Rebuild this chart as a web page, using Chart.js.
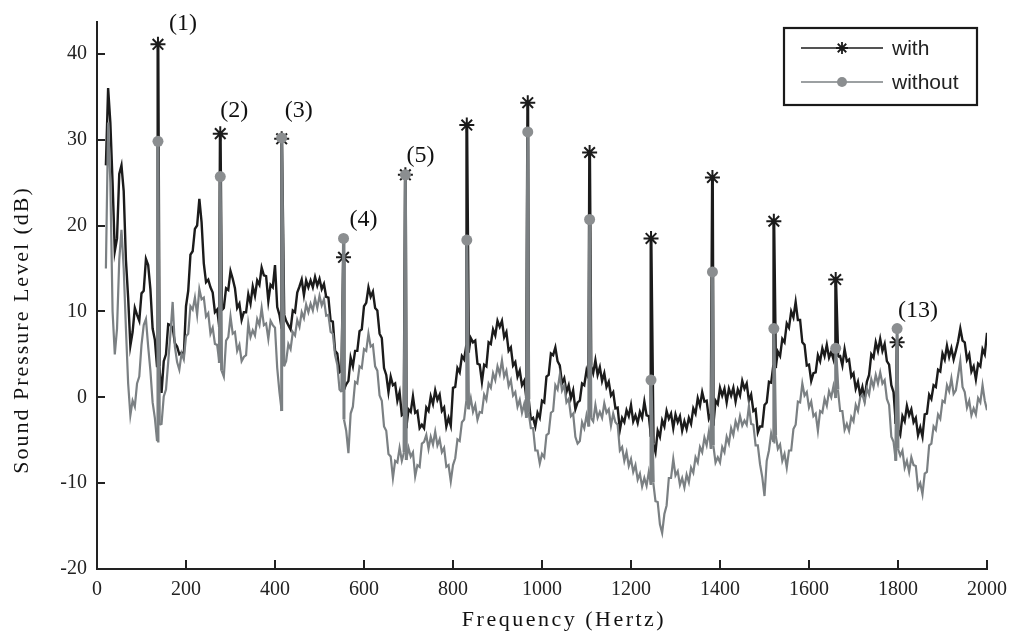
<!DOCTYPE html>
<html>
<head>
<meta charset="utf-8">
<script src="https://cdn.jsdelivr.net/npm/chart.js@4/dist/chart.umd.min.js"></script>
<style>
html,body{margin:0;padding:0;background:#fff;}
#wrap{width:1016px;height:635px;position:relative;}
</style>
</head>
<body>
<div id="wrap"><canvas id="c"></canvas></div>
<script>
// Frequency grid (Hz) of the spectrum samples
const freqStart = 20;
const freqStep = 5;

// Sound pressure level (dB), "with" series, one value per 5 Hz from 20 Hz
const levelWith = [
  27,36,32,25,17,18.5,26,27,24,16,11.6,6,7.6,10.4,9.6,8.9,12.1,12.4,16.1,15.4,
  12.6,8,6.7,3.5,3.6,0.5,4.2,5,8.5,8.4,8.1,6.3,5.9,5,5.2,4.8,10.6,12.4,16.6,17,
  19.6,20,23.1,20.4,15.6,13.4,13.7,12.8,12.2,9.9,10.2,8.2,10.1,10.4,12.7,12.5,14.7,13.8,12.7,10.4,
  10.9,9,9.9,9.9,12,10.9,12.9,11.8,13.6,13.1,15.1,14.2,14.1,11.2,13.1,12.8,15.4,10.5,9.6,8,
  9.7,8.9,8.4,7.9,10.1,9.9,12.2,12.9,13.7,11.9,13.6,12.8,13.6,12.8,14,13,13.8,12.6,13.2,11.7,
  11.6,8.9,8.8,5.4,5.1,2.9,3.1,0.9,1.5,1.9,4.6,3.6,5.4,5.4,7.7,7.9,10.6,11,12.8,11.7,
  12.3,10.4,10.1,7.4,6.9,3.4,2.6,0.6,2.4,1.4,1.6,-0.4,0.6,-2.1,-1.9,-3.6,-1.4,-1.7,0.1,-1.8,
  -1.6,-3.6,-3.2,-3.6,-1.2,-1.6,0.1,-0.8,0.8,-0.3,0.3,-1.6,-1.2,-3.4,-2.4,-3.3,1.1,1.2,3.4,2.9,
  4.8,4.4,6.1,5.2,6.9,6.4,6.6,3.9,3.8,1.8,3.8,3.6,6.4,6.2,7.9,7.2,8.9,8.2,8.9,7,
  7.6,5.4,5.8,3.7,4.1,2.4,3.1,1.4,1.9,-0.1,-0.2,-2.6,-2.4,-3.4,-1.8,-2.4,-0.4,-0.6,2.4,2.6,
  5.1,4.9,5.8,4.2,3.7,1.6,2.2,0.6,1.4,-0.1,0.8,-1.4,-0.6,-0.4,1.6,1.4,3.1,2.2,3.7,2.8,
  4.3,2.6,3.5,1.9,2.8,1.2,1.8,0.2,0.6,-1.3,-1.2,-3.8,-2.4,-2.9,-1.5,-2.2,-0.9,-2.8,-2.1,-3,
  -1.7,-2.4,-0.5,-2.1,-2.2,-4.6,-5.4,-6.4,-3.9,-4.6,-2.7,-3.4,-1.6,-2.5,-1.9,-3.6,-2,-2.9,-2.2,-3.9,
  -2.8,-3.7,-2.4,-3.1,-1.3,-1.9,-0.1,-1,0.6,-0.5,-0.4,-2.5,-1.9,-3.3,-0.4,-0.8,1.1,0.2,1,-0.6,
  1,0.2,1.1,-0.5,0.9,0.2,1.9,1,1.6,-0.4,0.3,-1.6,-1.4,-4.1,-3.4,-3.4,-0.9,-0.6,1.8,1.7,
  3.8,3.4,5.3,4.8,6.8,6.4,8.6,8.1,10,9.3,11.1,9,9,6.4,6.1,3.7,3.8,1.9,2.8,2.9,
  4.9,4.2,5.7,4.8,6.1,4.6,5.3,4.4,6.1,4.7,4.8,3.7,5.6,4.2,4.4,2.4,2.8,1,1.8,0.2,
  1.2,-0.2,1.8,2.6,5,4.6,6.4,5.4,6.8,5.4,6.2,4.2,3.8,1.4,0.6,-3.1,-3.8,-4.4,-2.2,-2.8,
  -1,-2.1,-1.4,-2.9,-2.4,-4.4,-3.5,-4.6,-2,-1.9,0.3,-0.2,1.4,1.2,3.2,3,5.1,4.4,6,4.7,
  5.7,4.4,5.4,6.5,8,6.6,6.4,4.4,5,3,3.6,2.1,3.9,3.6,5.6,5,7.5
];

// Sound pressure level (dB), "without" series, one value per 5 Hz from 20 Hz
const levelWithout = [
  15,32,25,10,5,8,16,19.5,15,8,1.6,-2.1,-0.4,-1.1,1.6,2.4,6.1,8.4,9.1,5.9,
  3.1,-0.6,-2.4,-5.1,-3.2,-3.1,0.1,0.9,4.1,7.4,11.1,5.9,4.1,3.2,5.1,4.4,7.1,7.4,10.6,10.2,
  11.6,9.6,12.6,11.4,11.6,9.4,9.8,7.4,8.1,6.2,6.1,4,3.1,2.4,6.6,7,9.4,7.4,7.6,5.4,
  6.1,4.2,4.7,4.9,8.6,7,7.8,7.2,9.1,8.4,10.4,8.4,8.6,6.8,8.9,8.4,8.1,3.4,0.6,-1.6,
  3.6,4.2,6.2,5.6,7.6,7.2,9,8.2,9.9,9.2,10.8,9.9,10.9,10.1,11.5,10.4,11.8,10.7,11.4,9.5,
  9.6,7.6,7.4,4.9,3.8,0.9,0.6,-2.6,-3.9,-6.5,-1.9,-1.1,1.8,1.6,3.6,3.4,5.6,5.4,7.4,5.9,
  6.1,3.6,3.1,0.2,-0.4,-3.4,-3.9,-6.6,-6.9,-9.4,-7.4,-7.6,-5.9,-7.4,-6.4,-7.3,-5.9,-6.9,-6.4,-9.2,
  -7.9,-8.1,-5.4,-5.2,-4.4,-6,-4.6,-5.5,-4,-5.6,-4.9,-6.4,-5.9,-8.1,-7.9,-9.8,-7.9,-7.1,-4.9,-5.1,
  -2.9,-2.6,-0.4,-1.4,-0.1,-1.7,-0.9,-2.6,-1.7,-1.8,0.3,-0.3,1.6,1.1,2.8,2,3.6,2.7,4.3,2.4,
  3.1,1.3,2,0.2,0.6,-1.1,-0.3,-1.8,-0.8,-2.4,-1.8,-3.6,-3.6,-6.2,-6.2,-7.7,-6.6,-7,-4.4,-4.2,
  -1.8,-1.6,1.4,0.9,2.6,0.8,1.4,-0.6,-0.2,-2.2,-1.9,-4.6,-5.4,-5.1,-2.9,-3.6,-2.1,-3.4,-2.4,-2.8,
  -0.9,-2.4,-1.7,-2.4,-0.7,-1.8,-1.4,-3.3,-1.9,-2.9,-3.2,-6.2,-5.8,-7.4,-6.4,-8,-7.2,-8.7,-7.9,-9.6,
  -8.9,-10.4,-9.4,-10.3,-8.7,-10.2,-9.9,-12.1,-12.2,-14.8,-15.8,-13.6,-12.6,-9.4,-9.4,-7.2,-9.1,-8.6,-10.2,-9.4,
  -10.5,-9,-9.9,-8.2,-8.8,-7,-7.6,-5.8,-6.4,-4.7,-5.6,-4,-6,-5.6,-7.6,-7,-7.6,-5.8,-6.4,-4.6,
  -5.4,-3.6,-4.4,-2.8,-3.6,-2.2,-3.3,-2.7,-3.2,-1,-3.1,-3.2,-5.6,-5.6,-7.8,-9.3,-11.5,-7.4,-6.2,-4.2,
  -5.2,-4.4,-6,-5.5,-7.4,-6.6,-8.2,-6.2,-6.2,-3.7,-3.2,-0.5,-0.6,1.6,0.2,0.6,-1.2,-0.5,-2.2,-1.9,
  -3.9,-1.6,-1.8,-0.2,-1,0.7,0,1.3,-0.1,0.9,-1.6,-1.6,-3.8,-3.1,-3.9,-2.3,-2.8,-0.9,-1.6,0,
  0.3,-0.6,1,0.3,2.1,1.2,2.6,1.6,2.9,1.6,2,-0.2,-0.9,-4.6,-5.2,-7.4,-6,-6.8,-6.2,-8.2,
  -7.4,-8.7,-7,-7.9,-8,-10.6,-10,-11.3,-8.9,-8.7,-5.6,-5.4,-3.4,-3.8,-2,-2.5,-0.4,-0.6,1.4,0.7,
  2.2,0.4,0.8,2.5,4.2,1.2,0.6,-1.2,-0.4,-2.1,-1.3,-2,-0.1,-0.6,1.4,-0.4,-1.5
];

// Harmonic peaks (Hz) and their levels (dB)
const peakFreq    = [137, 277, 415, 554, 693, 831, 968, 1107, 1245, 1383, 1521, 1660, 1798];
const peakWith    = [41.1, 30.7, 30.1, 16.3, 25.9, 31.7, 34.3, 28.5, 18.5, 25.6, 20.5, 13.7, 6.4];
const peakWithout = [29.8, 25.7, 30.2, 18.5, 25.9, 18.3, 30.9, 20.7, 2.0, 14.6, 8.0, 5.7, 8.0];

// Peak annotations
const peakLabels     = ['(1)', '(2)', '(3)', '(4)', '(5)', '(13)'];
const peakLabelIndex = [0, 1, 2, 3, 4, 12];

// Axis ticks
const xTicks = [0, 200, 400, 600, 800, 1000, 1200, 1400, 1600, 1800, 2000];
const yTicks = [-20, -10, 0, 10, 20, 30, 40];

const seriesNames = ['with', 'without'];

function buildSeries(levels, peaks) {
  const pts = levels.map((v, i) => ({ x: freqStart + i * freqStep, y: v }));
  peakFreq.forEach((f, k) => pts.push({ x: f, y: peaks[k], peak: true }));
  pts.sort((a, b) => a.x - b.x);
  return pts;
}

const BLACK = '#1b1b1b';
const GRAY = '#7b8083';
const DOT = '#8b8e90';
const SERIF = '"Liberation Serif", "Times New Roman", serif';
const SANS = '"Liberation Sans", Arial, sans-serif';

const dataWith = buildSeries(levelWith, peakWith);
const dataWithout = buildSeries(levelWithout, peakWithout);

function stemWidth(arr, normal, stem) {
  return c => (arr[c.p0DataIndex] && arr[c.p0DataIndex].peak) || (arr[c.p1DataIndex] && arr[c.p1DataIndex].peak) ? stem : normal;
}

const decorPlugin = {
  id: 'decor',
  afterDraw(chart) {
    const ctx = chart.ctx;
    const xs = chart.scales.x, ys = chart.scales.y;
    const area = chart.chartArea;
    ctx.save();
    // inward tick marks
    ctx.strokeStyle = '#222';
    ctx.lineWidth = 2;
    xTicks.forEach(t => {
      if (t === 0) return;
      const px = Math.round(xs.getPixelForValue(t));
      ctx.beginPath(); ctx.moveTo(px, area.bottom); ctx.lineTo(px, area.bottom - 9); ctx.stroke();
    });
    yTicks.forEach(t => {
      if (t === -20) return;
      const py = Math.round(ys.getPixelForValue(t));
      ctx.beginPath(); ctx.moveTo(area.left, py); ctx.lineTo(area.left + 8, py); ctx.stroke();
    });

    // peak labels
    ctx.fillStyle = '#111';
    ctx.font = '24px ' + SERIF;
    ctx.textAlign = 'center';
    ctx.textBaseline = 'middle';
    const dx = [25, 14, 17, 20, 15, 21];
    const dy = [-21, -23, -27, -19, -19, -18];
    peakLabelIndex.forEach((idx, k) => {
      const top = Math.max(peakWith[idx], peakWithout[idx]);
      const px = xs.getPixelForValue(peakFreq[idx]) + dx[k];
      const py = ys.getPixelForValue(top) + dy[k];
      ctx.fillText(peakLabels[k], px, py);
    });

    // axis titles
    ctx.font = '22px ' + SERIF;
    ctx.fillStyle = '#111';
    try { ctx.letterSpacing = '2.5px'; } catch (e) {}
    ctx.fillText('Frequency (Hertz)', 564, 620);
    try { ctx.letterSpacing = '2px'; } catch (e) {}
    ctx.save();
    ctx.translate(22, 330);
    ctx.rotate(-Math.PI / 2);
    ctx.fillText('Sound Pressure Level (dB)', 0, 0);
    ctx.restore();
    try { ctx.letterSpacing = '0px'; } catch (e) {}

    // legend box
    const lx = 784, ly = 28, lw = 193, lh = 77;
    ctx.fillStyle = '#fff';
    ctx.fillRect(lx, ly, lw, lh);
    ctx.strokeStyle = '#1a1a1a';
    ctx.lineWidth = 2.2;
    ctx.strokeRect(lx, ly, lw, lh);
    const ds = chart.data.datasets;
    const rows = [48, 82];
    ds.forEach((d, i) => {
      const y = rows[i];
      ctx.strokeStyle = d.borderColor;
      ctx.lineWidth = 1.5;
      ctx.beginPath(); ctx.moveTo(801, y); ctx.lineTo(883, y); ctx.stroke();
      if (d.pointStyle === 'star') {
        ctx.lineWidth = 1.8;
        ctx.strokeStyle = BLACK;
        const r = 6;
        ctx.beginPath();
        for (let a = 0; a < 4; a++) {
          const ang = a * Math.PI / 4;
          ctx.moveTo(842 - r * Math.cos(ang), y - r * Math.sin(ang));
          ctx.lineTo(842 + r * Math.cos(ang), y + r * Math.sin(ang));
        }
        ctx.stroke();
      } else {
        ctx.fillStyle = DOT;
        ctx.beginPath(); ctx.arc(842, y, 5, 0, Math.PI * 2); ctx.fill();
      }
      ctx.fillStyle = '#222';
      ctx.font = '21px ' + SANS;
      ctx.textAlign = 'left';
      ctx.textBaseline = 'middle';
      ctx.fillText(d.label, 892, y + 1);
    });
    ctx.restore();
  }
};

new Chart(document.getElementById('c'), {
  type: 'line',
  data: {
    datasets: [
      {
        label: seriesNames[0],
        data: dataWith,
        borderColor: BLACK,
        borderWidth: 2.4,
        segment: { borderWidth: stemWidth(dataWith, 2.4, 3) },
        pointStyle: 'star',
        pointRadius: c => (c.raw && c.raw.peak) ? 7.5 : 0,
        pointBorderColor: BLACK,
        pointBorderWidth: 2,
        pointBackgroundColor: BLACK,
        tension: 0,
        fill: false,
        order: 1
      },
      {
        label: seriesNames[1],
        data: dataWithout,
        borderColor: GRAY,
        borderWidth: 2.2,
        segment: { borderWidth: stemWidth(dataWithout, 2.2, 3) },
        pointStyle: 'circle',
        pointRadius: c => (c.raw && c.raw.peak) ? 5.5 : 0,
        pointBorderColor: DOT,
        pointBorderWidth: 0,
        pointBackgroundColor: DOT,
        tension: 0,
        fill: false,
        order: 0
      }
    ]
  },
  options: {
    responsive: true,
    maintainAspectRatio: false,
    animation: false,
    events: [],
    layout: { padding: { top: 21, right: 22, left: 0, bottom: 0 } },
    plugins: { legend: { display: false }, tooltip: { enabled: false } },
    scales: {
      x: {
        type: 'linear',
        min: 0, max: 2000,
        afterFit: s => { s.height = 66; },
        afterBuildTicks: s => { s.ticks = xTicks.map(v => ({ value: v })); },
        grid: { display: false, drawTicks: false },
        border: { display: true, color: '#222', width: 2 },
        ticks: { color: '#222', font: { family: SERIF, size: 20 }, padding: 9, maxRotation: 0, autoSkip: false, callback: v => String(v) }
      },
      y: {
        type: 'linear',
        min: -20, max: 43.7,
        afterFit: s => { s.width = 97; },
        afterBuildTicks: s => { s.ticks = yTicks.map(v => ({ value: v })); },
        grid: { display: false, drawTicks: false },
        border: { display: true, color: '#222', width: 2 },
        ticks: { color: '#222', font: { family: SERIF, size: 20 }, padding: 10, autoSkip: false, callback: v => String(v) }
      }
    }
  },
  plugins: [decorPlugin]
});
</script>
</body>
</html>
